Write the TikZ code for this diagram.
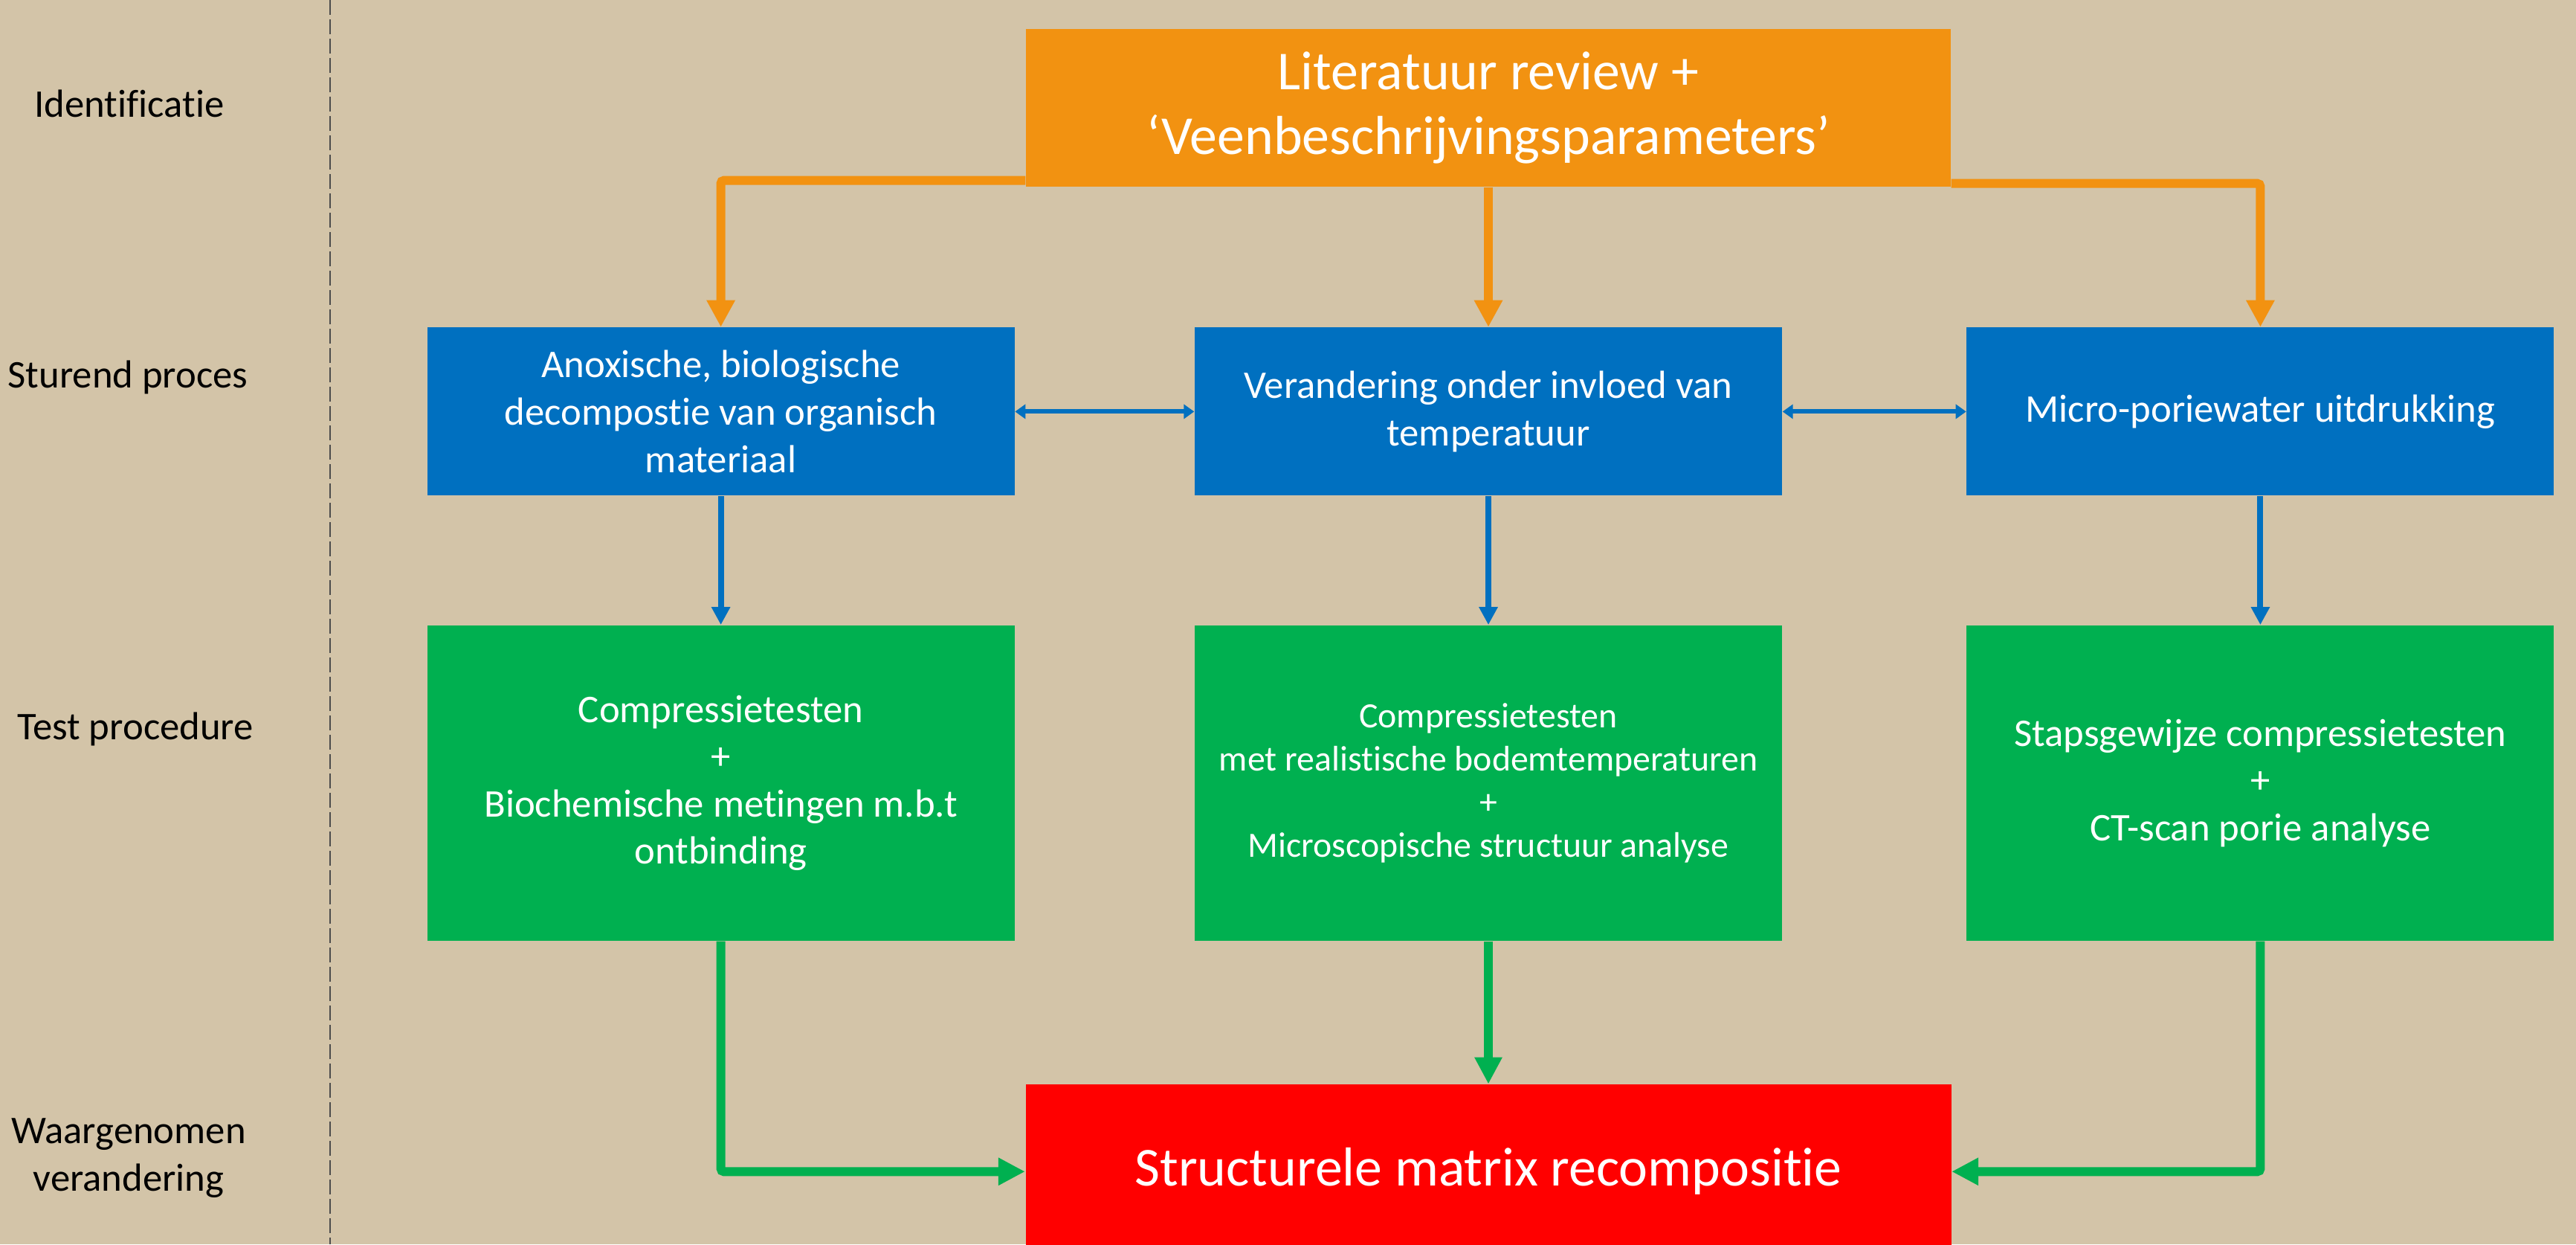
\documentclass[tikz,border=0pt]{standalone}
\usepackage{fontspec}
\setmainfont{Carlito}[RawFeature=-liga]
\usepackage{tikz}
\usetikzlibrary{positioning}
\usetikzlibrary{arrows.meta}
\usepackage{xcolor}
\definecolor{tanbg}{HTML}{D3C4A8}
\definecolor{litorange}{HTML}{F29211}
\definecolor{procblue}{HTML}{0070C0}
\definecolor{testgreen}{HTML}{00B050}
\definecolor{resultred}{HTML}{FF0000}

\begin{document}
\begin{tikzpicture}[
		orangenode/.style={rectangle, fill=litorange, text=white, minimum width=12.44cm, minimum height=2.12cm, inner sep=0pt, align=center, font=\fontsize{21}{24.8}\selectfont},
		bluenode/.style={rectangle, fill=procblue, text=white, minimum width=7.9cm, minimum height=2.26cm, inner sep=0pt, align=center, font=\fontsize{15}{18.2}\selectfont},
		greennode/.style={rectangle, fill=testgreen, text=white, minimum width=7.9cm, minimum height=4.24cm, inner sep=0pt, align=center, font=\fontsize{15}{18.1}\selectfont},
		rednode/.style={rectangle, fill=resultred, text=white, minimum width=12.45cm, minimum height=2.34cm, inner sep=0pt, align=center, font=\fontsize{21}{24.8}\selectfont},
		textnode/.style={draw=none, fill=none, align=center, inner sep=0pt, font=\fontsize{15}{18.2}\selectfont},
		orangearrow/.style={draw=litorange, line width=1.2mm, rounded corners=0.4mm, -{Triangle[length=3.6mm,width=3.6mm]}},
		bluearrow/.style={draw=procblue, line width=0.8mm, -{Triangle[length=2.4mm,width=2.4mm]}},
		blueboth/.style={draw=procblue, line width=0.6mm, {Triangle[length=1.4mm,width=1.9mm]}-{Triangle[length=1.4mm,width=1.9mm]}},
		greenarrow/.style={draw=testgreen, line width=1.2mm, rounded corners=0.4mm, -{Triangle[length=3.6mm,width=3.5mm]}},
		]
		\useasboundingbox (0,0) rectangle (34.65,-16.73);
		\clip (0,0) rectangle (34.65,-16.73);
		\fill[tanbg] (0,0) rectangle (34.65,-16.73);
		
		%Nodes
		\node[orangenode]  (lit-review)   at (20.02,-1.45)          {Literatuur review +\\‘Veenbeschrijvingsparameters’};
		\node[bluenode]    (proc-temp)    [below=1.88cm of lit-review]  {Verandering onder invloed van\\temperatuur};
		\node[bluenode]    (proc-anox)    [left=2.41cm of proc-temp]    {Anoxische, biologische\\decompostie van organisch\\materiaal};
		\node[bluenode]    (proc-micro)   [right=2.47cm of proc-temp]   {Micro-poriewater uitdrukking};
		\node[greennode]   (test-anox)    [below=1.73cm of proc-anox]   {Compressietesten\\+\\Biochemische metingen m.b.t\\ontbinding};
		\node[greennode, font=\fontsize{13.6}{16.5}\selectfont] (test-temp) [below=1.73cm of proc-temp] {Compressietesten\\met realistische bodemtemperaturen\\+\\Microscopische structuur analyse};
		\node[greennode]   (test-micro)   [below=1.73cm of proc-micro]  {Stapsgewijze compressietesten\\+\\CT-scan porie analyse};
		\node[rednode]     (recompositie) [below=1.92cm of test-temp]   {Structurele matrix recompositie};
		
		% Phase labels
		\node[textnode]    (identificatie) at (1.74,-1.39)  {Identificatie};
		\node[textnode]    (sturend)       at (1.72,-5.07)  {Sturend proces};
		\node[textnode]    (test)          at (1.82,-9.80)  {Test procedure};
		\node[textnode]    (waargenomen)   at (1.73,-15.57) {Waargenomen\\verandering};
		
		%Lines
		\draw[dash pattern=on 0.2cm off 0.06cm, line width=0.25mm, black!70] (4.44,0) -- (4.44,-16.73);
		\draw[orangearrow] ([yshift=0.09cm]lit-review.south west) -| (proc-anox.north);
		\draw[orangearrow] (lit-review.south) -- (proc-temp.north);
		\draw[orangearrow] ([yshift=0.05cm]lit-review.south east) -| (proc-micro.north);
		\draw[blueboth] (proc-anox.east) -- (proc-temp.west);
		\draw[blueboth] (proc-temp.east) -- (proc-micro.west);
		\draw[bluearrow] (proc-anox.south) -- (test-anox.north);
		\draw[bluearrow] (proc-temp.south) -- (test-temp.north);
		\draw[bluearrow] (proc-micro.south) -- (test-micro.north);
		\draw[greenarrow] (test-anox.south) |- (recompositie.west);
		\draw[greenarrow] (test-temp.south) -- (recompositie.north);
		\draw[greenarrow] (test-micro.south) |- (recompositie.east);
	\end{tikzpicture}
\end{document}
